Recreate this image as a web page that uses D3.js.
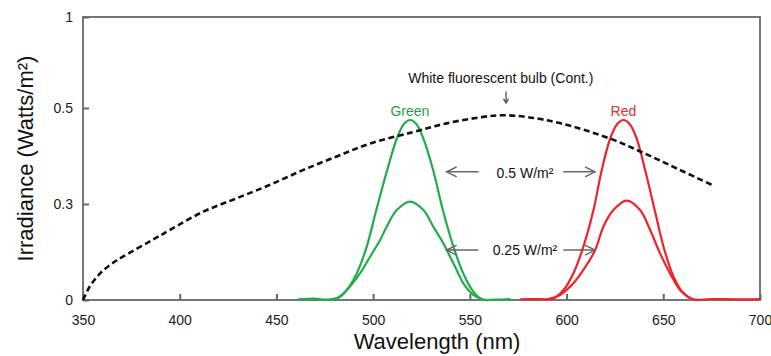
<!DOCTYPE html>
<html>
<head>
<meta charset="utf-8">
<script src="https://cdn.jsdelivr.net/npm/d3@7"></script>
<style>
  body { margin: 0; background: #fff; }
  svg { display: block; font-family: "Liberation Sans", Arial, sans-serif; }
</style>
</head>
<body>
<svg id="chart" width="771" height="356"></svg>
<script>
// axis ticks
var xTicks = [350, 400, 450, 500, 550, 600, 650, 700];
var yTicks = [0, 0.3, 0.5, 1];

// [wavelength nm, irradiance W/m2]
var whiteBulb = [[350,0],[353.5,0.042],[359,0.084],[365.5,0.116],[374,0.147],[386,0.188],[395,0.219],
  [412.2,0.276],[429.5,0.312],[446.7,0.34],[463.9,0.371],[481.2,0.399],[498.4,0.426],[520.8,0.45],
  [538,0.468],[556,0.481],[567,0.485],[580,0.481],[597,0.468],[622,0.437],[640,0.406],[657,0.374],[675,0.34]];

var greenHigh = [[461,0.002],[470,0.004],[476,0.001],[481.2,0.005],[486.3,0.031],[491.5,0.083],[496.7,0.167],
  [501.8,0.285],[507,0.367],[512.4,0.438],[516,0.467],[519.1,0.475],[522.2,0.467],[525.8,0.438],
  [531,0.371],[536.3,0.275],[541.5,0.167],[546.6,0.083],[551.8,0.026],[556.1,0.002],[563,0.001],[571,0.003]];

var greenLow = [[477.7,0.001],[482.9,0.01],[488,0.042],[493.2,0.083],[498.4,0.135],[503.6,0.1875],
  [507,0.229],[512.2,0.281],[519.1,0.305],[526,0.281],[531.1,0.229],[536.3,0.177],[539.8,0.135],
  [543.2,0.094],[546.6,0.052],[551.8,0.016],[557,0.001]];

var redHigh = [[576,0.002],[584,0.003],[593.2,0.005],[598.4,0.031],[603.5,0.083],[608.7,0.167],[613.9,0.281],
  [618.2,0.371],[622.7,0.438],[626.3,0.467],[629.4,0.475],[632.5,0.467],[636.1,0.438],[640.6,0.371],
  [645.8,0.275],[650.1,0.167],[655.3,0.073],[660.5,0.021],[665.6,0.002],[675,0.003],[688,0.002],[700,0.003]];

var redLow = [[589.9,0.002],[596.8,0.016],[603.5,0.052],[608.7,0.094],[614.8,0.156],[619,0.229],[624.2,0.281],
  [631.1,0.307],[638,0.281],[643.2,0.219],[648.3,0.146],[653.5,0.083],[658.7,0.031],[663.9,0.005]];

var svg = d3.select("#chart");
var x = d3.scaleLinear().domain([350, 700]).range([83, 760]);
// the y axis is not linear in the original: ticks are spaced evenly
var y = d3.scaleLinear().domain(yTicks).range([300, 204, 108, 17]);

var gray = "#767676";

// frame
svg.append("rect")
    .attr("x", x(350)).attr("y", y(1))
    .attr("width", x(700) - x(350)).attr("height", y(0) - y(1))
    .attr("fill", "none").attr("stroke", gray).attr("stroke-width", 2);

var xAxis = svg.append("g")
    .attr("transform", "translate(0," + y(0) + ")")
    .call(d3.axisBottom(x).tickValues(xTicks).tickFormat(d3.format("d"))
        .tickSizeInner(-6).tickSizeOuter(0).tickPadding(15));
var yAxis = svg.append("g")
    .attr("transform", "translate(" + x(350) + ",0)")
    .call(d3.axisLeft(y).tickValues(yTicks).tickFormat(function(d) { return String(d); })
        .tickSizeInner(-6).tickSizeOuter(0).tickPadding(10));

[xAxis, yAxis].forEach(function(g) {
    g.select(".domain").remove();
    g.selectAll(".tick line").attr("stroke", "#666").attr("stroke-width", 2);
    g.selectAll(".tick text").attr("fill", "#1a1a1a").style("font-size", "14px")
        .style("font-family", "'Liberation Sans', Arial, sans-serif");
});

// axis titles
svg.append("text")
    .attr("x", 437).attr("y", 349)
    .attr("text-anchor", "middle")
    .style("font-size", "22px").attr("fill", "#111")
    .text("Wavelength (nm)");
svg.append("text")
    .attr("transform", "translate(33," + (y(0) + y(1)) / 2 + ") rotate(-90)")
    .attr("text-anchor", "middle")
    .style("font-size", "22px").attr("fill", "#111")
    .text("Irradiance (Watts/m²)");

var line = d3.line()
    .x(function(d) { return x(d[0]); })
    .y(function(d) { return y(d[1]); })
    .curve(d3.curveCatmullRom.alpha(0.5));

var series = [
    {data: greenLow, color: "#22ad4c"},
    {data: greenHigh, color: "#22ad4c"},
    {data: redLow, color: "#ef2328"},
    {data: redHigh, color: "#ef2328"}
];
series.forEach(function(s) {
    svg.append("path").attr("d", line(s.data))
        .attr("fill", "none").attr("stroke", s.color).attr("stroke-width", 2.2);
});

svg.append("path").attr("d", line(whiteBulb))
    .attr("fill", "none").attr("stroke", "#111")
    .attr("stroke-width", 2.6).attr("stroke-dasharray", "6,3.5");

// labels
svg.append("text").attr("x", x(519)).attr("y", y(0.475) - 4)
    .attr("text-anchor", "middle").style("font-size", "14px").attr("fill", "#1f9e4a").text("Green");
svg.append("text").attr("x", x(629.4)).attr("y", y(0.475) - 4)
    .attr("text-anchor", "middle").style("font-size", "14px").attr("fill", "#ee2a2a").text("Red");
svg.append("text").attr("x", x(566)).attr("y", y(0.64))
    .attr("text-anchor", "middle").style("font-size", "14px").attr("fill", "#111")
    .text("White fluorescent bulb (Cont.)");

// small arrow down to the bulb curve
var ax = x(568.7);
svg.append("line").attr("x1", ax).attr("x2", ax).attr("y1", y(0.59)).attr("y2", y(0.528))
    .attr("stroke", "#5a4a48").attr("stroke-width", 1.3);
svg.append("path")
    .attr("d", "M" + (ax - 2.5) + "," + (y(0.528) - 4) + "L" + ax + "," + y(0.528) + "L" + (ax + 2.5) + "," + (y(0.528) - 4))
    .attr("fill", "none").attr("stroke", "#5a4a48").attr("stroke-width", 1.3);

function arrow(x1, x2, yy) {
    var dir = x2 > x1 ? 1 : -1;
    svg.append("line").attr("x1", x1).attr("x2", x2).attr("y1", yy).attr("y2", yy)
        .attr("stroke", "#666").attr("stroke-width", 1.5);
    svg.append("path")
        .attr("d", "M" + (x2 - dir * 10) + "," + (yy - 5) + "L" + x2 + "," + yy + "L" + (x2 - dir * 10) + "," + (yy + 5))
        .attr("fill", "none").attr("stroke", "#666").attr("stroke-width", 1.5);
}

var notes = [
    {text: "0.5 W/m²", base: 0.354, arrowAt: 0.367},
    {text: "0.25 W/m²", base: 0.1406, arrowAt: 0.156}
];
notes.forEach(function(n) {
    svg.append("text").attr("x", x(578.5)).attr("y", y(n.base))
        .attr("text-anchor", "middle").style("font-size", "14px").attr("fill", "#111").text(n.text);
    arrow(x(554.4), x(538), y(n.arrowAt));
    arrow(x(598.3), x(614.7), y(n.arrowAt));
});
</script>
</body>
</html>
